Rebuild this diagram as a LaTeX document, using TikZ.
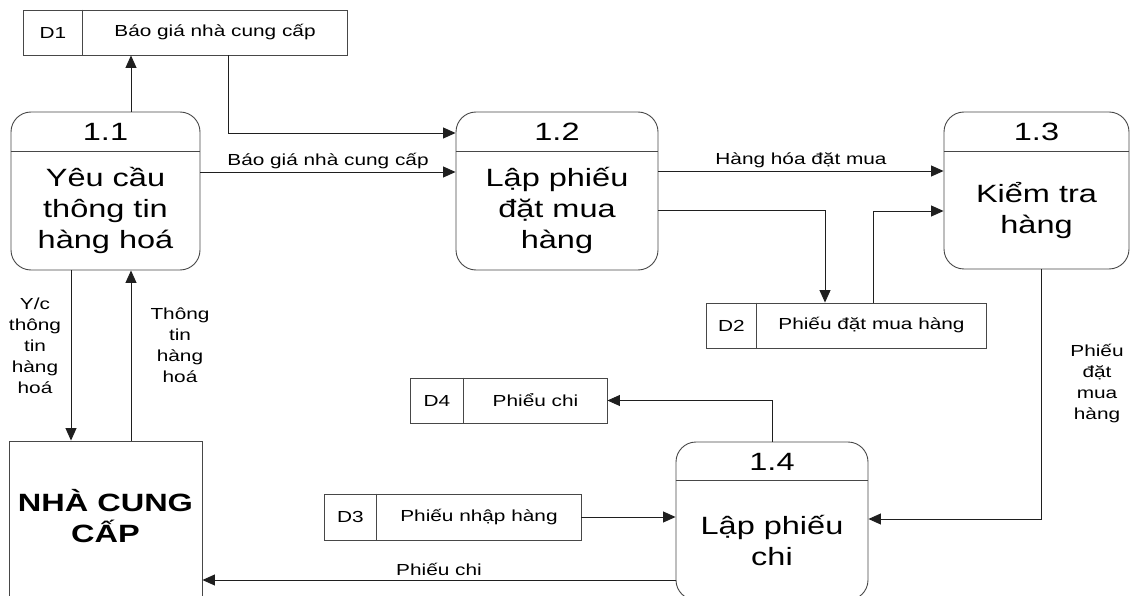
\documentclass[tikz,border=0pt]{standalone}
\usepackage{fontspec}
\setmainfont{Liberation Sans}[FakeStretch=1.3]
\usetikzlibrary{arrows.meta}
\begin{document}
\begin{tikzpicture}[x=1pt,y=-1pt,
  line/.style={draw=black!72, line width=0.9pt},
  flow/.style={draw=black!88, line width=0.9pt, -{Triangle[length=12.5pt,width=11pt]}},
  proc/.style={line, rounded corners=20pt, inner sep=0pt},
  extent/.style={line, inner sep=0pt},
  store/.style={line, inner sep=0pt},
  ptitle/.style={font=\fontsize{25}{30}\selectfont, inner sep=0pt},
  pbody/.style={font=\fontsize{25}{31}\selectfont, align=center, inner sep=0pt},
  ebody/.style={font=\fontsize{25}{31}\selectfont\bfseries, align=center, inner sep=0pt},
  stext/.style={font=\fontsize{16}{20}\selectfont, inner sep=0pt},
  lbl/.style={font=\fontsize{16}{20}\selectfont, align=center, inner sep=1pt},
  vlbl/.style={font=\fontsize{16}{21}\selectfont, align=center, inner sep=0pt},
  ]
\useasboundingbox (0,0) rectangle (1130,596);
\clip (0,0) rectangle (1130,596);

% ---------- processes ----------
\node[proc, minimum width=189pt, minimum height=158pt] (p11) at (105.5,191) {};
\node[proc, minimum width=202pt, minimum height=158pt] (p12) at (557,191) {};
\node[proc, minimum width=185pt, minimum height=157pt] (p13) at (1036.5,190.5) {};
\node[proc, minimum width=192pt, minimum height=158pt] (p14) at (772,521) {};

\foreach \p in {p11,p12,p13}
  \draw[line] ([yshift=-40pt]\p.north west) -- ([yshift=-40pt]\p.north east);
\draw[line] ([yshift=-39pt]p14.north west) -- ([yshift=-39pt]p14.north east);

\node[ptitle] (p11id) at (105.5,132) {1.1};
\node[ptitle] (p12id) at (557,132) {1.2};
\node[ptitle] (p13id) at (1036.5,132) {1.3};
\node[ptitle] (p14id) at (772,462) {1.4};

\node[pbody] (p11txt) at (105.5,210) {Yêu cầu\\thông tin\\hàng hoá};
\node[pbody] (p12txt) at (557,210) {Lập phiếu\\đặt mua\\hàng};
\node[pbody] (p13txt) at (1036.5,211) {Kiểm tra\\hàng};
\node[pbody] (p14txt) at (772,541) {Lập phiếu\\chi};

% ---------- external entity ----------
\node[extent, minimum width=193pt, minimum height=164pt] (ext) at (105.5,523) {};
\node[ebody] (exttxt) at (105.5,516) {NHÀ CUNG\\CẤP};

% ---------- data stores ----------
\node[store, minimum width=324pt, minimum height=45pt] (d1) at (185,32.5) {};
\node[store, minimum width=280pt, minimum height=45pt] (d2) at (846,325.5) {};
\node[store, minimum width=257pt, minimum height=46pt] (d3) at (452.5,517) {};
\node[store, minimum width=197pt, minimum height=45pt] (d4) at (508.5,400.5) {};

\draw[line] ([xshift=60pt]d1.north west) -- ([xshift=60pt]d1.south west);
\draw[line] ([xshift=51pt]d2.north west) -- ([xshift=51pt]d2.south west);
\draw[line] ([xshift=53pt]d3.north west) -- ([xshift=53pt]d3.south west);
\draw[line] ([xshift=54pt]d4.north west) -- ([xshift=54pt]d4.south west);

\node[stext] (d1id) at (53,32.5) {D1};
\node[stext] (d1nm) at (215,32.5) {Báo giá nhà cung cấp};
\node[stext] (d2id) at (731.5,325.5) {D2};
\node[stext] (d2nm) at (871.5,325.5) {Phiếu đặt mua hàng};
\node[stext] (d3id) at (350.5,517) {D3};
\node[stext] (d3nm) at (479,517) {Phiếu nhập hàng};
\node[stext] (d4id) at (437,400.5) {D4};
\node[stext] (d4nm) at (535.5,400.5) {Phiểu chi};

% ---------- flows ----------
\draw[flow] ([xshift=25.5pt]p11.north) -- ([xshift=25.5pt]p11.north |- d1.south);
\draw[flow] ([xshift=43pt]d1.south) |- ([yshift=58pt]p12.west);
\draw[flow] ([yshift=19pt]p11.east) -- node[lbl, above=2pt] {Báo giá nhà cung cấp} ([yshift=19pt]p12.west);
\draw[flow] ([yshift=20pt]p12.east) -- node[lbl, above=2pt] {Hàng hóa đặt mua} ([yshift=19.5pt]p13.west);
\draw[flow] ([yshift=-19pt]p12.east) -| ([xshift=-21pt]d2.north);
\draw[flow] ([xshift=27pt]d2.north) |- ([yshift=-20.5pt]p13.west);
\draw[flow] ([xshift=4.5pt]p13.south) |- ([yshift=2pt]p14.east);
\node[vlbl] (lblp13) at (1097,384) {Phiếu\\đặt\\mua\\hàng};
\draw[flow] (p14.north) |- (d4.east);
\draw[flow] (d3.east) -- (d3.east -| p14.west);
\draw[flow] ([yshift=-59pt]p14.west) -- node[lbl, above=3pt] {Phiếu chi} ([yshift=-59pt]p14.west -| ext.east);
\draw[flow] ([xshift=-34.5pt]p11.south) -- ([xshift=-34.5pt]p11.south |- ext.north);
\draw[flow] ([xshift=25.5pt]ext.north) -- ([xshift=25.5pt]ext.north |- p11.south);
\node[vlbl] (lblreq) at (35,346) {Y/c\\thông\\tin\\hàng\\hoá};
\node[vlbl] (lblinfo) at (180,345) {Thông\\tin\\hàng\\hoá};
\end{tikzpicture}
\end{document}
